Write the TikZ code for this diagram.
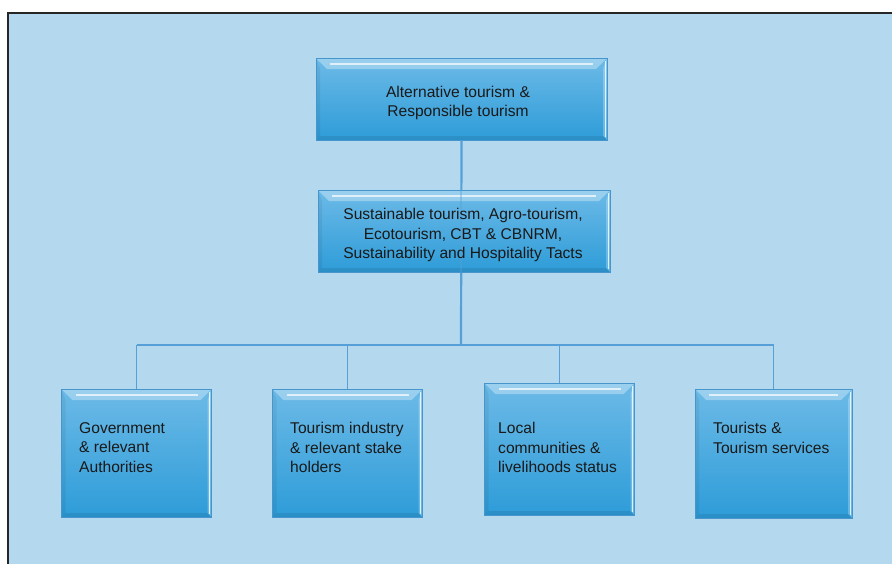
\documentclass[tikz,border=0pt]{standalone}
\usepackage{fontspec}
\setmainfont{Liberation Sans}
\usetikzlibrary{calc}
\definecolor{bg}{RGB}{180,217,239}
\definecolor{ln}{RGB}{86,160,215}
\definecolor{btop}{RGB}{108,186,231}
\definecolor{bbot}{RGB}{46,156,216}
\definecolor{bedge}{RGB}{70,150,205}
\definecolor{txt}{RGB}{25,25,25}
\tikzset{
  bx/.style={rectangle, inner sep=0pt, top color=btop, bottom color=bbot,
    draw=bedge, line width=0.6pt,
    path picture={
      \coordinate (pnw) at (path picture bounding box.north west);
      \coordinate (pne) at (path picture bounding box.north east);
      \coordinate (psw) at (path picture bounding box.south west);
      \coordinate (pse) at (path picture bounding box.south east);
      \fill[white, opacity=0.32] (pnw) -- (pne) -- ([xshift=-11pt,yshift=-11pt]pne) -- ([xshift=11pt,yshift=-11pt]pnw) -- cycle;
      \fill[white, opacity=0.25] (pne) -- (pse) -- ([xshift=-4pt,yshift=4pt]pse) -- ([xshift=-4pt,yshift=-11pt]pne) -- cycle;
      \fill[black, opacity=0.06] (pnw) -- (psw) -- ([xshift=4pt,yshift=4pt]psw) -- ([xshift=4pt,yshift=-11pt]pnw) -- cycle;
      \fill[black, opacity=0.08] (psw) -- (pse) -- ([xshift=-4pt,yshift=4pt]pse) -- ([xshift=4pt,yshift=4pt]psw) -- cycle;
      \draw[white, opacity=0.7, line width=1.4pt] ([xshift=14pt,yshift=-6pt]pnw) -- ([xshift=-14pt,yshift=-6pt]pne);
      \draw[white, opacity=0.8, line width=1pt] ([xshift=-2pt,yshift=-3pt]pne) -- ([xshift=-2pt,yshift=3pt]pse);
    }},
  conn/.style={draw=ln, line width=2.2pt},
  drop/.style={draw=ln, line width=1.5pt},
  lbl/.style={inner sep=0pt, text=txt, font=\fontsize{15.6}{19.5}\selectfont},
  lblc/.style={lbl, align=center},
  lbll/.style={lbl, align=left, anchor=north west},
}
\begin{document}
\begin{tikzpicture}[x=1pt, y=-1pt]
  \useasboundingbox (0,0) rectangle (892,563);
  \fill[white] (0,0) rectangle (892,563);
  \fill[bg] (8,13) rectangle (895,566);
  \draw[black!85, line width=1.8pt] (8,570) -- (8,13) -- (900,13);

  % boxes
  \node[bx, minimum width=291pt, minimum height=82pt] (top) at (461.5,99) {};
  \coordinate (bus) at (461,345);
  \node[bx, minimum width=150pt, minimum height=128pt] (b1) at (136.5,453) {};
  \node[bx, minimum width=150pt, minimum height=128pt] (b2) at (347.5,453) {};
  \node[bx, minimum width=150pt, minimum height=132pt] (b3) at (559.5,449) {};
  \node[bx, minimum width=157pt, minimum height=129pt] (b4) at (773.5,453.5) {};

  % main vertical line (behind middle box)
  \draw[conn] (top.south) -- (bus);
  \node[bx, minimum width=292pt, minimum height=82pt] (mid) at (464,231) {};
  \draw[draw=ln, line width=2.2pt, opacity=0.4] (mid.north -| bus) -- (mid.south -| bus);

  % bus and drops
  \draw[conn] (b1.north |- bus) -- (b4.north |- bus);
  \draw[drop] (b1.north |- bus) -- (b1.north);
  \draw[drop] (b2.north |- bus) -- (b2.north);
  \draw[drop] (b3.north |- bus) -- (b3.north);
  \draw[drop] (b4.north |- bus) -- (b4.north);

  % texts
  \node[lblc] (ttop) at (458,103) {Alternative tourism \&\\Responsible tourism};
  \node[lblc] (tmid) at (463,235) {Sustainable tourism, Agro-tourism,\\Ecotourism, CBT \& CBNRM,\\Sustainability and Hospitality Tacts};
  \node[lbll] (t1) at (79,422) {Government\\\& relevant\\Authorities};
  \node[lbll] (t2) at (290,422) {Tourism industry\\\& relevant stake\\holders};
  \node[lbll] (t3) at (498,422) {Local\\communities \&\\livelihoods status};
  \node[lbll] (t4) at (713,422) {Tourists \&\\Tourism services};
\end{tikzpicture}
\end{document}
